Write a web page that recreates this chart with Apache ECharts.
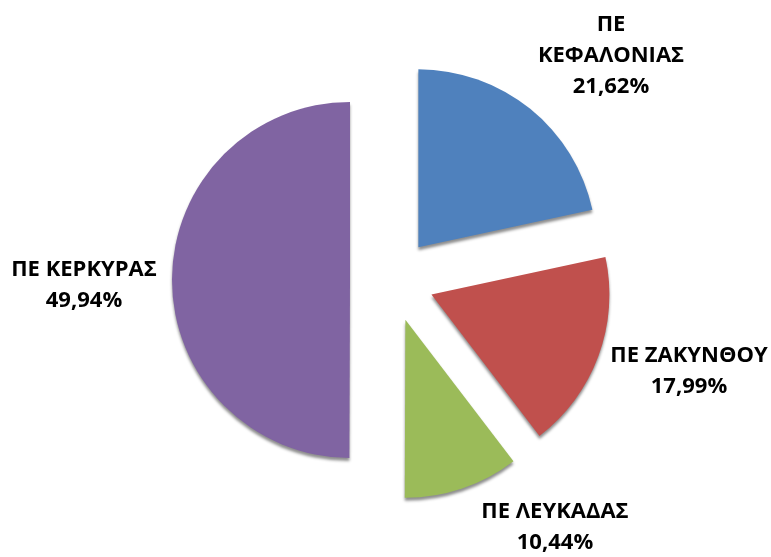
<!DOCTYPE html>
<html>
<head>
<meta charset="utf-8">
<script src="https://cdn.jsdelivr.net/npm/echarts@6/dist/echarts.min.js"></script>
<style>
  html, body { margin: 0; padding: 0; background: #fff; }
  #chart { width: 771px; height: 557px; }
</style>
</head>
<body>
<div id="chart"></div>
<script>
// data
const names = ['ΠΕ\nΚΕΦΑΛΟΝΙΑΣ', 'ΠΕ ΖΑΚΥΝΘΟΥ', 'ΠΕ ΛΕΥΚΑΔΑΣ', 'ΠΕ ΚΕΡΚΥΡΑΣ']
const shares = [21.62, 17.99, 10.44, 49.94]

// colours (office palette)
const colors = ['#4F81BD', '#C0504D', '#9BBB59', '#8064A2']
// label anchor points (centre of each text block)
const labelPos = [[611, 56], [689, 371], [555, 527], [84, 285]]

const fmt = v => v.toFixed(2).replace('.', ',') + '%'

const chart = echarts.init(document.getElementById('chart'))

chart.setOption({
  animation: false,
  // labels drawn as free text, the sector offset would drag series labels along
  graphic: names.map((n, i) => ({
    type: 'text',
    x: labelPos[i][0],
    y: labelPos[i][1],
    style: {
      text: n + '\n' + fmt(shares[i]),
      align: 'center',
      verticalAlign: 'middle',
      fontFamily: 'Open Sans',
      fontWeight: 'bold',
      fontSize: 22,
      lineHeight: 31,
      fill: '#000'
    }
  })),
  series: [{
    type: 'pie',
    center: [392, 280],
    radius: 178,
    startAngle: 90,
    selectedMode: 'multiple',
    selectedOffset: 42,
    itemStyle: {
      shadowColor: 'rgba(0,0,0,0.45)',
      shadowBlur: 3,
      shadowOffsetY: 3
    },
    select: { itemStyle: { shadowColor: 'rgba(0,0,0,0.45)', shadowBlur: 3, shadowOffsetY: 3 } },
    emphasis: { scale: false },
    label: { show: false },
    labelLine: { show: false },
    data: names.map((n, i) => ({
      name: n,
      value: shares[i],
      selected: true,
      itemStyle: { color: colors[i] },
      select: { itemStyle: { color: colors[i] } }
    }))
  }]
})
</script>
</body>
</html>
